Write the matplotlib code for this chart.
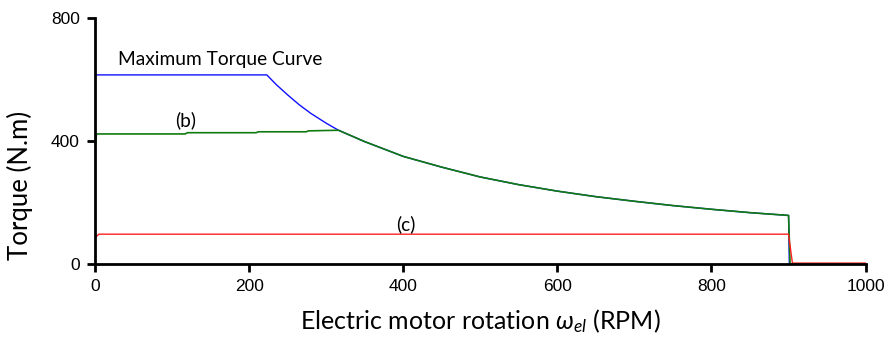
import numpy as np
import matplotlib
matplotlib.use('Agg')
import matplotlib.pyplot as plt

plt.rcParams['mathtext.fontset'] = 'custom'
plt.rcParams['mathtext.rm'] = 'Lato'
plt.rcParams['mathtext.it'] = 'Lato:italic'

# maximum torque curve (blue)
max_rpm = [0, 223, 235, 250, 265, 280, 300, 316, 350, 400, 450, 500, 550, 600, 650, 700, 750, 800, 850, 900, 901, 1000]
max_torque = [615, 615, 584, 550, 518, 490, 458, 435, 398, 350, 315, 283, 258, 237, 219, 204, 190, 178, 167, 158, 0, 0]

# curve (b) (green)
b_rpm = [0, 2, 117, 120, 209, 212, 274, 277, 316, 350, 400, 450, 500, 550, 600, 650, 700, 750, 800, 850, 900, 902, 1000]
b_torque = [375, 423, 423, 427, 427, 430, 430, 433, 435, 398, 350, 315, 283, 258, 237, 219, 204, 190, 178, 167, 158, 0, 0]

# curve (c) (red)
c_rpm = [0, 5, 900, 905, 1000]
c_torque = [85, 97, 97, 3, 3]

fig = plt.figure(figsize=(8.86, 3.4), dpi=100)
ax = fig.add_axes([0.1072, 0.2235, 0.8698, 0.7235])

ax.plot(max_rpm, max_torque, color='#1010ff', lw=1.0)
ax.plot(b_rpm, b_torque, color='#117a11', lw=1.2)
ax.plot(c_rpm, c_torque, color='#ff2020', lw=1.0)

# annotations
ax.text(162, 664, 'Maximum Torque Curve', fontsize=13.8, family='Lato', ha='center', va='center')
ax.text(118, 467, '(b)', fontsize=13.8, family='Lato', ha='center', va='center')
ax.text(403, 128, '(c)', fontsize=13.8, family='Lato', ha='center', va='center')

ax.set_xlim(0, 1000)
ax.set_ylim(0, 800)
ax.set_xticks([0, 200, 400, 600, 800, 1000])
ax.set_yticks([0, 400, 800])

for s in ['top', 'right']:
    ax.spines[s].set_visible(False)
for s in ['left', 'bottom']:
    ax.spines[s].set_linewidth(2)

ax.tick_params(direction='out', length=6, width=2, labelsize=12.5, pad=5)
for lab in ax.get_xticklabels() + ax.get_yticklabels():
    lab.set_family('Liberation Sans')

ax.set_xlabel(r'Electric motor rotation $\omega_{el}$ (RPM)', fontsize=18, family='Lato', labelpad=9)
ax.set_ylabel('Torque (N.m)', fontsize=18.5, family='Lato')
ax.yaxis.set_label_coords(-0.081, 0.32)

fig.savefig('out.png', dpi=100)
